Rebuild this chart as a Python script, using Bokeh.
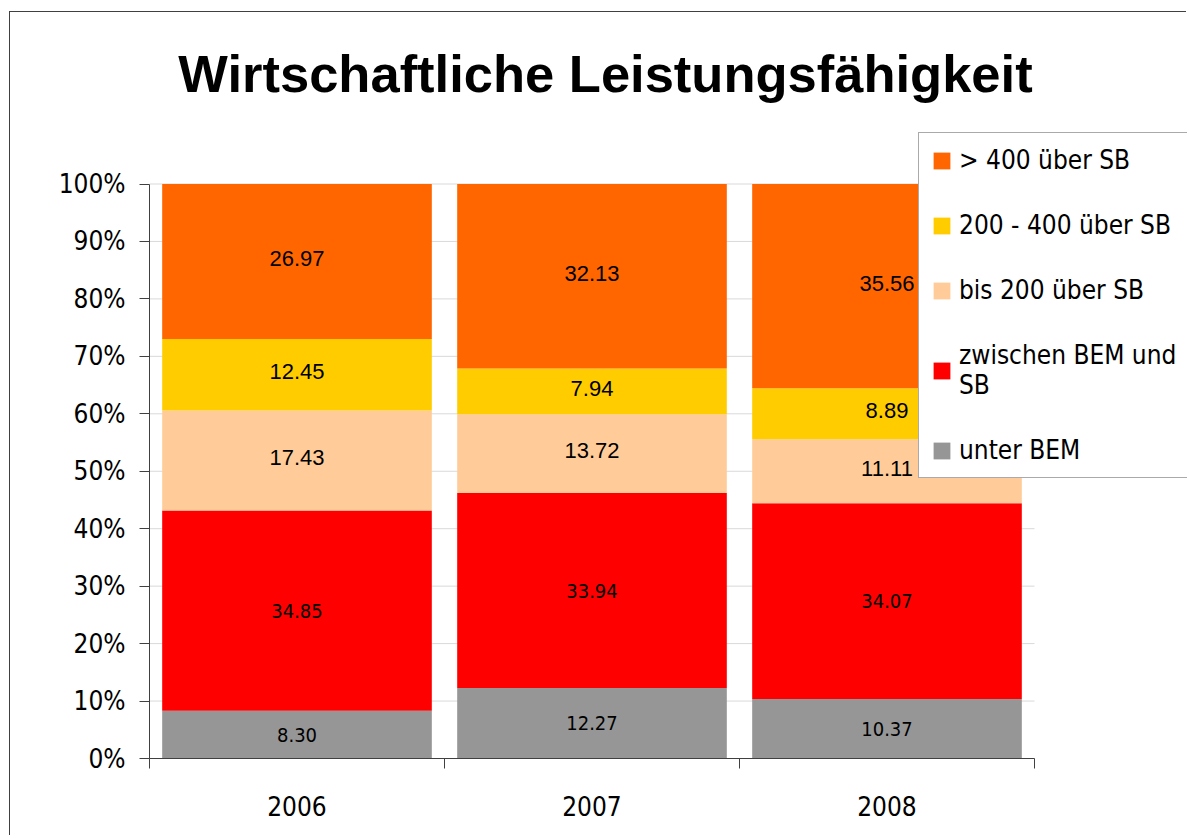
from bokeh.plotting import figure
from bokeh.models import (ColumnDataSource, Range1d, FixedTicker, PrintfTickFormatter,
                          Legend, LegendItem, Label)
from bokeh.core.properties import value
from bokeh.embed import file_html
from bokeh.resources import INLINE

years = ["2006", "2007", "2008"]
series = ["unter BEM", "zwischen BEM und\nSB", "bis 200 über SB", "200 - 400 über SB", "> 400 über SB"]
unter_bem = [8.30, 12.27, 10.37]
zwischen_bem_sb = [34.85, 33.94, 34.07]
bis_200 = [17.43, 13.72, 11.11]
von_200_400 = [12.45, 7.94, 8.89]
ueber_400 = [26.97, 32.13, 35.56]
colors = ["#969696", "#FF0000", "#FFCC99", "#FFCC00", "#FF6600"]
y_ticks = [0, 10, 20, 30, 40, 50, 60, 70, 80, 90, 100]
title_text = "Wirtschaftliche Leistungsfähigkeit"

NARROW = "DejaVu Sans Condensed, Liberation Sans"
ARIAL = "Liberation Sans"

# layout (pixels)
W, H = 1177, 824
BL, BB = 139, 78          # left / bottom borders -> frame
CAT_PX = 885              # pixel width taken by the categories
PX_100 = 574.5            # pixel height of 0..100 %
frame_w = W - BL
frame_h = H - BB

keys = ["s0", "s1", "s2", "s3", "s4"]
values = [unter_bem, zwischen_bem_sb, bis_200, von_200_400, ueber_400]
xs = [i + 0.5 for i in range(len(years))]
data = {"x": xs}
for k, v in zip(keys, values):
    data[k] = v
source = ColumnDataSource(data)

x_end = len(years) * frame_w / CAT_PX
y_end = 100 * frame_h / PX_100

p = figure(width=W, height=H, output_backend="svg", toolbar_location=None, title=None,
           x_range=Range1d(0, x_end), y_range=Range1d(0, y_end),
           min_border_left=BL, min_border_right=0, min_border_top=0, min_border_bottom=BB)
p.styles = {"margin-left": "9px", "margin-top": "11px",
            "border-top": "1.5px solid #404040", "border-left": "1.5px solid #404040"}

# grid lines limited to the category area
p.segment(x0=[0] * len(y_ticks), x1=[len(years)] * len(y_ticks), y0=y_ticks, y1=y_ticks,
          line_color="#D9D9D9", line_width=1)

renderers = p.vbar_stack(keys, x="x", width=0.914, color=colors, line_color=None, source=source)

# data labels
rows_n = dict(x=[], y=[], t=[])
rows_a = dict(x=[], y=[], t=[])
for j in range(len(years)):
    base = 0.0
    for i, v in enumerate(values):
        tgt = rows_n if i < 2 else rows_a
        tgt["x"].append(xs[j])
        tgt["y"].append(base + v[j] / 2)
        tgt["t"].append("%.2f" % v[j])
        base += v[j]
p.text(x="x", y="y", text="t", source=ColumnDataSource(rows_n), text_font=value(NARROW),
       text_font_size="20px", text_align="center", text_baseline="middle", text_color="#000000")
p.text(x="x", y="y", text="t", source=ColumnDataSource(rows_a), text_font=value(ARIAL),
       text_font_size="22px", text_align="center", text_baseline="middle", text_color="#000000",
       y_offset=-3)

# title
p.add_layout(Label(x=456, y=685, x_units="screen", y_units="screen", text=title_text,
                   text_font=ARIAL, text_font_style="bold", text_font_size="52.5px",
                   text_align="center", text_baseline="alphabetic", text_color="#000000"))

# axes
p.xaxis.bounds = (0, len(years))
p.xaxis.ticker = FixedTicker(ticks=xs, minor_ticks=list(range(len(years) + 1)))
p.xaxis.major_label_overrides = {x: y for x, y in zip(xs, years)}
p.xaxis.major_tick_out = 0
p.xaxis.major_tick_in = 0
p.xaxis.minor_tick_out = 10
p.xaxis.minor_tick_in = 0
p.xaxis.minor_tick_line_color = "#404040"
p.xaxis.major_label_text_font = NARROW
p.xaxis.major_label_text_font_size = "26px"
p.xaxis.major_label_standoff = 27

p.yaxis.bounds = (0, 100)
p.yaxis.ticker = FixedTicker(ticks=y_ticks)
p.yaxis.formatter = PrintfTickFormatter(format="%d%%")
p.yaxis.major_tick_out = 10
p.yaxis.major_tick_in = 0
p.yaxis.minor_tick_line_color = None
p.yaxis.major_label_text_font = NARROW
p.yaxis.major_label_text_font_size = "26px"
p.yaxis.major_label_standoff = 14

for ax in (p.xaxis, p.yaxis):
    ax.axis_line_color = "#404040"
    ax.major_tick_line_color = "#404040"
    ax.major_label_text_color = "#000000"

p.xgrid.grid_line_color = None
p.ygrid.grid_line_color = None
p.outline_line_color = None

items = [LegendItem(label=series[i], renderers=[renderers[i]]) for i in reversed(range(len(series)))]
legend = Legend(items=items, location=(769, 280), orientation="vertical")
legend.label_text_font = NARROW
legend.label_text_font_size = "26px"
legend.label_text_color = "#000000"
legend.glyph_width = 21
legend.glyph_height = 21
legend.label_height = 21
legend.label_width = 300
legend.label_standoff = 7
legend.spacing = 35
legend.padding = 12
legend.margin = 0
legend.border_line_color = "#555555"
legend.border_line_width = 1.5
legend.background_fill_alpha = 1.0
p.add_layout(legend, "center")

open("out.html", "w").write(file_html(p, INLINE))
